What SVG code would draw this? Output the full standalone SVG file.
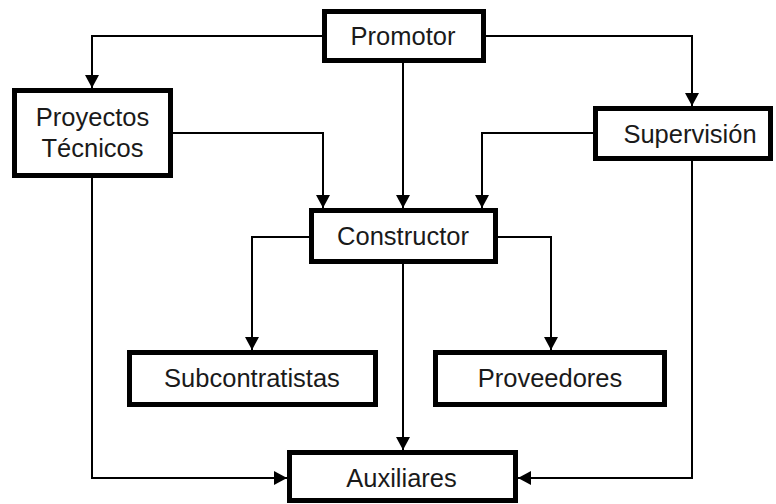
<svg xmlns="http://www.w3.org/2000/svg" width="776" height="504" viewBox="0 0 776 504">
  <style>
    .box { fill: #ffffff; stroke: #000000; stroke-width: 5; }
    .lbl { font-family: "Liberation Sans", Arial, sans-serif; font-size: 25.5px; fill: #1a1a1a; text-anchor: middle; }
    .wire { fill: none; stroke: #000000; stroke-width: 2; marker-end: url(#arrow); }
  </style>
  <defs>
    <marker id="arrow" viewBox="0 0 13 14" refX="13" refY="7" markerWidth="13" markerHeight="14" markerUnits="userSpaceOnUse" orient="auto">
      <path d="M0,0 L13,7 L0,14 z" fill="#000000"/>
    </marker>
  </defs>

  <!-- connectors -->
  <g id="connectors">
    <path class="wire" d="M322,36 H92 V88"/>
    <path class="wire" d="M486,36 H692 V106"/>
    <path class="wire" d="M403,63 V208"/>
    <path class="wire" d="M173,133 H323 V208"/>
    <path class="wire" d="M593,133 H482 V208"/>
    <path class="wire" d="M309,237 H252 V350"/>
    <path class="wire" d="M498,237 H551 V350"/>
    <path class="wire" d="M403,264 V450"/>
    <path class="wire" d="M92,178 V478 H287"/>
    <path class="wire" d="M692,161 V478 H518"/>
  </g>

  <!-- nodes -->
  <g id="promotor">
    <rect class="box" x="324.5" y="11.5" width="159" height="49"/>
    <text class="lbl" x="403" y="45">Promotor</text>
  </g>
  <g id="proyectos">
    <rect class="box" x="14.5" y="90.5" width="156" height="85"/>
    <text class="lbl" x="92.5" y="126">Proyectos</text>
    <text class="lbl" x="92.5" y="157">Técnicos</text>
  </g>
  <g id="supervision">
    <rect class="box" x="595.5" y="108.5" width="175" height="50"/>
    <text class="lbl" x="690" y="143">Supervisión</text>
  </g>
  <g id="constructor">
    <rect class="box" x="311.5" y="210.5" width="184" height="51"/>
    <text class="lbl" x="403" y="245">Constructor</text>
  </g>
  <g id="subcontratistas">
    <rect class="box" x="129.5" y="352.5" width="246" height="52"/>
    <text class="lbl" x="252" y="387">Subcontratistas</text>
  </g>
  <g id="proveedores">
    <rect class="box" x="435.5" y="352.5" width="229" height="52"/>
    <text class="lbl" x="550" y="387">Proveedores</text>
  </g>
  <g id="auxiliares">
    <rect class="box" x="289.5" y="452.5" width="226" height="48"/>
    <text class="lbl" x="401.5" y="487">Auxiliares</text>
  </g>
</svg>
